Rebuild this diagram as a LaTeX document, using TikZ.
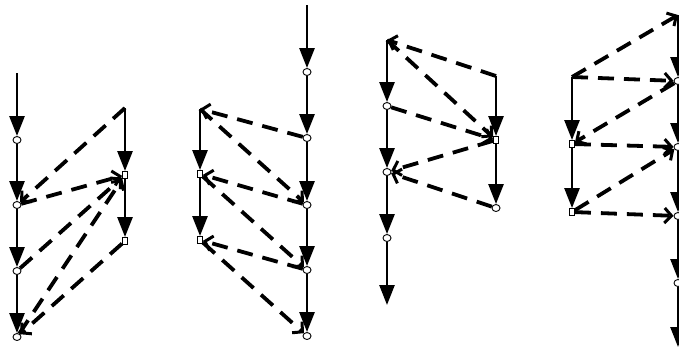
\documentclass[tikz,border=0pt]{standalone}
\usetikzlibrary{arrows.meta,shapes.geometric}
\pgfdeclarelayer{bg}
\pgfsetlayers{bg,main}
\tikzset{
 ev/.style={ellipse, draw, fill=white, inner sep=0pt, minimum width=8pt, minimum height=7pt, line width=0.9pt},
 evs/.style={rectangle, draw, fill=white, inner sep=0pt, minimum width=5pt, minimum height=7pt, line width=0.9pt},
 tl/.style={line width=2.6pt, -{Triangle[length=20pt,width=15pt]}},
 msg/.style={line width=3.8pt, dash pattern=on 16pt off 10pt, -{Straight Barb[length=7pt,width=15pt,line width=3pt]}},
}
\begin{document}
\begin{tikzpicture}[x=1pt,y=-1pt]
\useasboundingbox (0,0) rectangle (679,351);
\clip (0,0) rectangle (679,351);
% diagram 1
\coordinate (aLt) at (17,73);
\node[ev] (aL1) at (17,140) {};
\node[ev] (aL2) at (17,205) {};
\node[ev] (aL3) at (17,271) {};
\node[ev] (aL4) at (17,337) {};
\coordinate (aRt) at (125,108);
\node[evs] (aR1) at (125,175) {};
\node[evs] (aR2) at (125,241) {};
% diagram 2
\coordinate (bRt) at (307,5);
\node[ev] (bR1) at (307,72) {};
\node[ev] (bR2) at (307,138) {};
\node[ev] (bR3) at (307,205) {};
\node[ev] (bR4) at (307,270) {};
\node[ev] (bR5) at (307,336) {};
\coordinate (bLt) at (200,109);
\node[evs] (bL1) at (200,174) {};
\node[evs] (bL2) at (200,240) {};
% diagram 3
\coordinate (cLt) at (387,40);
\node[ev] (cL1) at (387,106) {};
\node[ev] (cL2) at (387,172) {};
\node[ev] (cL3) at (387,238) {};
\coordinate (cLe) at (387,305);
\coordinate (cRt) at (496,76);
\node[evs] (cR1) at (496,140) {};
\node[ev] (cR2) at (496,208) {};
% diagram 4
\coordinate (dRt) at (678,15);
\node[ev] (dR1) at (678,81) {};
\node[ev] (dR2) at (678,147) {};
\node[ev] (dR3) at (678,216) {};
\node[ev] (dR4) at (678,283) {};
\coordinate (dRe) at (678,347);
\coordinate (dLt) at (572,77);
\node[evs] (dL1) at (572,144) {};
\node[evs] (dL2) at (572,212) {};
\begin{pgfonlayer}{bg}
% diagram 1
\draw[tl] (aLt) -- (aL1);
\draw[tl] (aL1) -- (aL2);
\draw[tl] (aL2) -- (aL3);
\draw[tl] (aL3) -- (aL4);
\draw[tl] (aRt) -- (aR1);
\draw[tl] (aR1) -- (aR2);
\draw[msg] (aRt) -- (aL2);
\draw[msg] (aL2) -- (aR1);
\draw[msg] (aL3) -- (aR1);
\draw[msg] (aL4) -- (aR1);
\draw[msg] (aR2) -- (aL4);
% diagram 2
\draw[tl] (bRt) -- (bR1);
\draw[tl] (bR1) -- (bR2);
\draw[tl] (bR2) -- (bR3);
\draw[tl] (bR3) -- (bR4);
\draw[tl] (bR4) -- (bR5);
\draw[tl] (bLt) -- (bL1);
\draw[tl] (bL1) -- (bL2);
\draw[msg] (bR2) -- (bLt);
\draw[msg] (bLt) -- (bR3);
\draw[msg] (bR3) -- (bL1);
\draw[msg] (bL1) -- (bR4);
\draw[msg] (bR4) -- (bL2);
\draw[msg] (bL2) -- (bR5);
% diagram 3
\draw[tl] (cLt) -- (cL1);
\draw[tl] (cL1) -- (cL2);
\draw[tl] (cL2) -- (cL3);
\draw[tl] (cL3) -- (cLe);
\draw[tl] (cRt) -- (cR1);
\draw[tl] (cR1) -- (cR2);
\draw[msg] (cRt) -- (cLt);
\draw[msg] (cLt) -- (cR1);
\draw[msg] (cL1) -- (cR1);
\draw[msg] (cR1) -- (cL2);
\draw[msg] (cR2) -- (cL2);
% diagram 4
\draw[tl] (dRt) -- (dR1);
\draw[tl] (dR1) -- (dR2);
\draw[tl] (dR2) -- (dR3);
\draw[tl] (dR3) -- (dR4);
\draw[tl] (dR4) -- (dRe);
\draw[tl] (dLt) -- (dL1);
\draw[tl] (dL1) -- (dL2);
\draw[msg] (dLt) -- (dRt);
\draw[msg] (dLt) -- (dR1);
\draw[msg] (dR1) -- (dL1);
\draw[msg] (dL1) -- (dR2);
\draw[msg] (dL2) -- (dR2);
\draw[msg] (dL2) -- (dR3);
\end{pgfonlayer}
\end{tikzpicture}
\end{document}
